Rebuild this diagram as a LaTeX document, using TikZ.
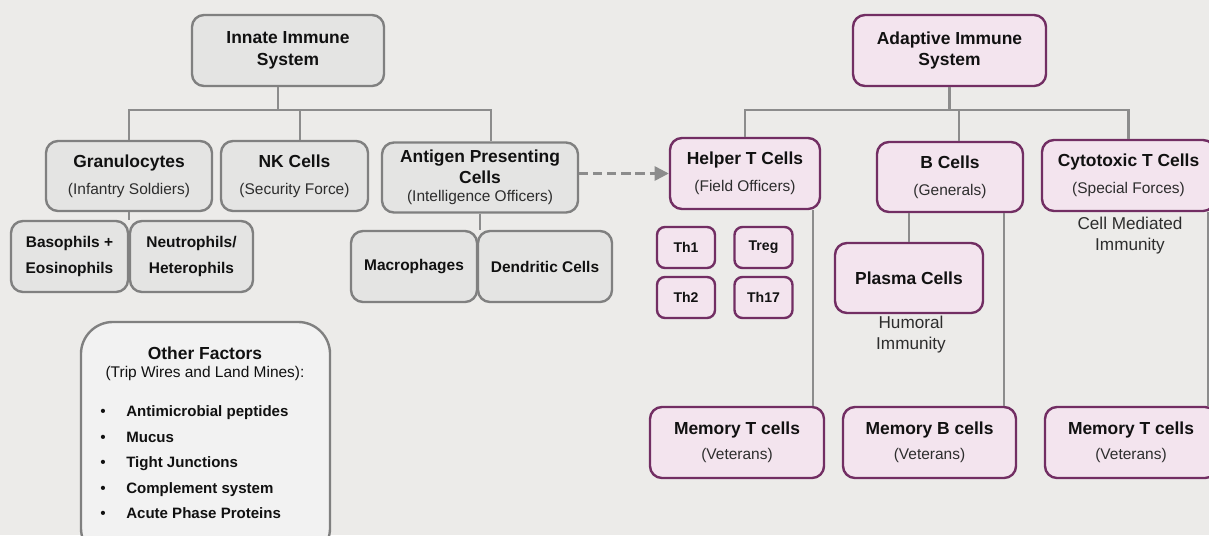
\documentclass[tikz,border=0pt]{standalone}
\usepackage{fontspec}
\setmainfont{Liberation Sans}
\usetikzlibrary{arrows.meta}
\usetikzlibrary{calc}

\definecolor{bgcol}{RGB}{236,235,233}
\definecolor{innfill}{RGB}{228,228,227}
\definecolor{innline}{RGB}{128,128,128}
\definecolor{othfill}{RGB}{242,242,242}
\definecolor{adpfill}{RGB}{243,228,238}
\definecolor{adpline}{RGB}{114,46,99}
\definecolor{connline}{RGB}{140,140,140}
\definecolor{txtcol}{RGB}{17,17,17}
\definecolor{subcol}{RGB}{45,45,45}

\newcommand{\hdfont}{\fontsize{12.4}{15.6}\selectfont\bfseries}
\newcommand{\subfont}{\fontsize{11}{13}\selectfont\mdseries\color{subcol}}
\newcommand{\smfont}{\fontsize{11}{18.5}\selectfont\bfseries}
\newcommand{\thfont}{\fontsize{10}{12}\selectfont\bfseries}
\newcommand{\notefont}{\fontsize{12.2}{15}\selectfont}
\newcommand{\listfont}{\fontsize{10.7}{13}\selectfont\bfseries}

\begin{document}
\begin{tikzpicture}[x=0.025cm,y=-0.025cm,font=\hdfont,text=txtcol,
  innbox/.style={draw=innline,fill=innfill,line width=1.7pt,rounded corners=0.3cm,align=center,inner sep=0pt},
  adpbox/.style={innbox,draw=adpline,fill=adpfill},
  thbox/.style={adpbox,rounded corners=0.2cm,font=\thfont,minimum width=1.45cm,minimum height=1.025cm},
  conn/.style={draw=connline,line width=1.7pt},
  note/.style={align=center,font=\notefont,text=subcol}]
\clip (0,0) rectangle (1209,535);
\fill[bgcol] (0,0) rectangle (1209,535);
% innate side
\path (288,50.5) node(innate) [innbox,minimum width=4.8cm,minimum height=1.775cm] {Innate Immune\\System};
\path (129,176) node(gran) [innbox,minimum width=4.15cm,minimum height=1.75cm] {Granulocytes\\[3.5pt]{\subfont (Infantry Soldiers)}};
\path (294.5,176) node(nk) [innbox,minimum width=3.675cm,minimum height=1.75cm] {NK Cells\\[3.5pt]{\subfont (Security Force)}};
\path (480,177.5) node(apc) [innbox,minimum width=4.9cm,minimum height=1.75cm] {Antigen Presenting\\[-1pt]Cells\\[-2.5pt]{\subfont (Intelligence Officers)}};
\path (69.5,256.5) node(baso) [innbox,font=\smfont,minimum width=2.925cm,minimum height=1.775cm] {Basophils +\\Eosinophils};
\path (191.5,256.5) node(neut) [innbox,font=\smfont,minimum width=3.075cm,minimum height=1.775cm] {Neutrophils/\\Heterophils};
\path (414,266.5) node(macro) [innbox,font=\smfont,minimum width=3.15cm,minimum height=1.775cm] {Macrophages};
\path (545,266.5) node(dend) [innbox,font=\smfont,minimum width=3.35cm,minimum height=1.775cm] {Dendritic Cells};
\coordinate (ibus) at (278,110);
\draw[conn] (ibus) -- (ibus |- innate.south);
\draw[conn] (gran.north) |- ([xshift=.275cm]apc.north |- ibus) -- ([xshift=.275cm]apc.north);
\draw[conn] ([xshift=.14cm]nk.north) -- ([xshift=.14cm]nk.north |- ibus);
\draw[conn] (gran.south) -- (gran.south |- baso.north);
\draw[conn] (apc.south) -- (apc.south |- macro.north);
% other factors
\path (205.5,441) node(other) [innbox,fill=othfill,rounded corners=0.8cm,minimum width=6.225cm,minimum height=5.95cm] {};
\path (205,353) node(othtitle) {Other Factors};
\path (205,373) node(othsub) [font=\subfont] {(Trip Wires and Land Mines):};
\foreach \fac [count=\i] in {Antimicrobial peptides,Mucus,Tight Junctions,Complement system,Acute Phase Proteins}
{
  \path (103,391+25.5*\i) node(bul\i) [anchor=base,font=\subfont,text=txtcol] {\textbullet};
  \path (126,391+25.5*\i) node(fac\i) [anchor=base west,inner sep=0pt,font=\listfont] {\fac};
}
% adaptive side
\path (949.5,50.5) node(adaptive) [adpbox,minimum width=4.825cm,minimum height=1.775cm] {Adaptive Immune\\System};
\path (745,173.5) node(helper) [adpbox,minimum width=3.75cm,minimum height=1.775cm] {Helper T Cells\\[3.5pt]{\subfont (Field Officers)}};
\path (950,177) node(bcell) [adpbox,minimum width=3.65cm,minimum height=1.75cm] {B Cells\\[3.5pt]{\subfont (Generals)}};
\path (1128.5,175.5) node(cyto) [adpbox,minimum width=4.325cm,minimum height=1.775cm] {Cytotoxic T Cells\\[3.5pt]{\subfont (Special Forces)}};
\foreach \nm/\xx/\yy in {Th1/686/247.5,Treg/763.5/247.5,Th2/686/297.5,Th17/763.5/297.5}
  \path (\xx,\yy) node(\nm) [thbox] {\nm};
\path (909,278) node(plasma) [adpbox,minimum width=3.7cm,minimum height=1.75cm] {Plasma Cells};
\path (737,442.5) node(memt) [adpbox,minimum width=4.35cm,minimum height=1.775cm] {Memory T cells\\[2.5pt]{\subfont (Veterans)}};
\path (929.5,442.5) node(memb) [adpbox,minimum width=4.325cm,minimum height=1.775cm] {Memory B cells\\[2.5pt]{\subfont (Veterans)}};
\path (1131,442.5) node(memc) [adpbox,minimum width=4.3cm,minimum height=1.775cm] {Memory T cells\\[2.5pt]{\subfont (Veterans)}};
\path (1130,235.5) node(cellmed) [note] {Cell Mediated\\Immunity};
\path (911,335) node(humoral) [note] {Humoral\\Immunity};
\coordinate (abus) at (950,110);
\draw[conn] (adaptive.south) -- (adaptive.south |- abus);
\draw[conn] (helper.north) |- (cyto.north |- abus) -- (cyto.north);
\draw[conn] ([xshift=.225cm]bcell.north) -- ([xshift=.225cm]bcell.north |- abus);
\draw[conn] (plasma.north) -- (plasma.north |- bcell.south);
\draw[conn] ([xshift=1.7cm]helper.south) -- ([xshift=1.7cm]helper.south |- memt.north);
\draw[conn] ([xshift=1.35cm]bcell.south) -- ([xshift=1.35cm]bcell.south |- memb.north);
\draw[conn] ([xshift=1.99cm]cyto.south) -- ([xshift=1.99cm]cyto.south |- memc.north);
\draw[conn,dash pattern=on 6.5pt off 3.5pt,-{Triangle[length=10pt,width=10pt]}] (apc.east |- helper.west) -- (helper.west);
\end{tikzpicture}
\end{document}
